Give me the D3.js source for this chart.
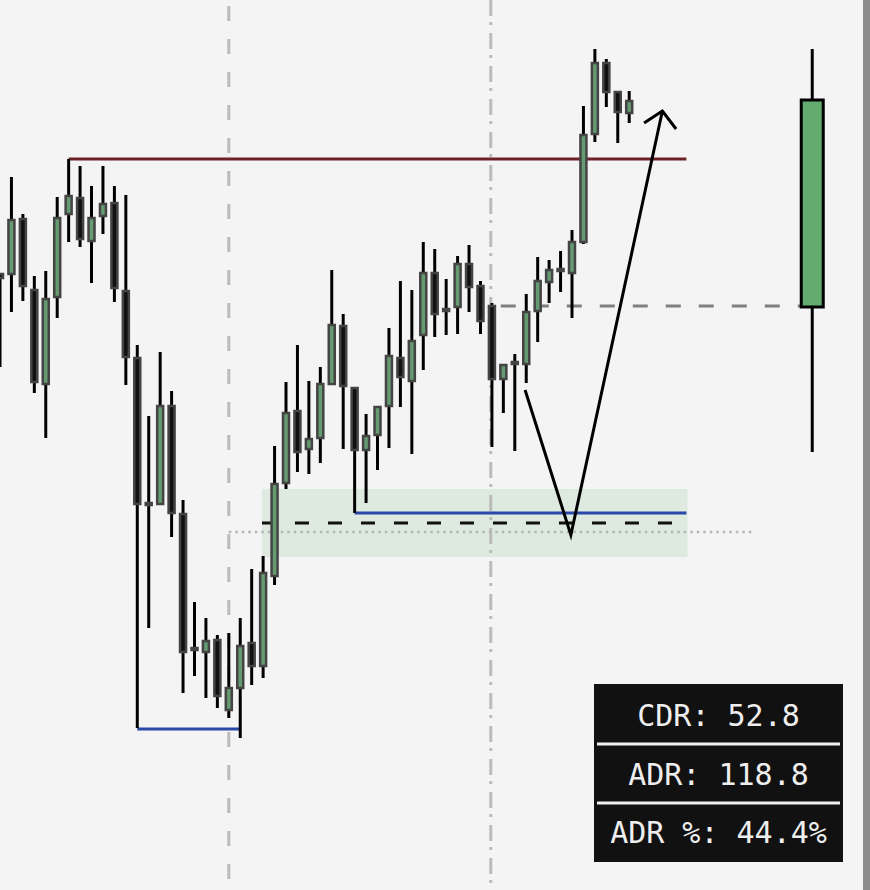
<!DOCTYPE html>
<html>
<head>
<meta charset="utf-8">
<script src="https://cdn.jsdelivr.net/npm/d3@7/dist/d3.min.js"></script>
<style>
  html, body { margin: 0; padding: 0; background: #f4f4f5; }
  svg { display: block; }
</style>
</head>
<body>
<div id="chart"></div>
<script>
// ---- DATA (price units) ----
const opens  = [62.6,62.6,68.1,61.0,51.6,60.3,68.6,70.2,65.9,68.4,69.7,60.9,54.2,39.7,39.6,49.4,38.6,25.2,24.8,26.0,19.0,21.2,25.7,23.4,32.4,41.7,48.9,45.1,46.2,51.6,57.4,51.2,45.0,46.5,49.4,54.2,51.9,56.5,62.7,59.1,59.3,63.6,61.4,59.4,52.1,53.8,53.6,58.9,61.8,62.9,62.7,65.8,76.6,83.7,80.8,78.7];
const highs  = [62.6,72.3,68.6,62.4,62.9,70.3,74.1,73.4,71.4,73.4,71.4,70.5,55.5,48.4,54.8,50.9,40.0,29.8,28.2,26.5,26.7,28.2,33.1,34.4,45.4,51.8,55.5,51.9,53.3,63.0,58.6,51.3,48.6,49.3,57.2,61.9,61.0,65.8,65.1,62.1,64.4,65.5,61.9,59.7,53.5,54.6,60.6,64.3,64.0,64.9,67.0,79.4,85.1,84.1,80.9,80.9];
const lows   = [53.3,58.8,59.9,50.7,46.2,58.2,65.8,65.3,61.7,66.6,59.8,51.5,17.2,27.2,39.6,36.3,20.7,22.4,20.2,19.2,18.2,16.2,21.5,22.2,31.5,41.1,42.8,42.6,43.7,51.6,45.1,38.7,39.7,43.0,45.2,49.3,44.6,53.0,56.3,56.5,56.6,58.8,56.6,45.3,48.7,44.9,51.7,55.8,59.7,60.8,58.2,65.6,75.8,79.3,75.7,77.7];
const closes = [62.2,68.0,61.4,51.8,60.1,68.2,70.4,66.1,68.2,69.6,61.2,54.3,39.6,39.5,49.4,38.7,24.8,25.0,25.9,20.4,21.2,25.4,23.4,32.7,41.6,48.7,44.8,46.1,51.6,57.5,51.4,45.0,46.4,49.3,54.4,52.3,55.9,62.7,58.6,58.9,63.6,61.3,57.9,52.1,53.5,53.6,58.8,61.9,63.0,63.1,65.8,76.5,83.7,80.8,78.8,79.9];

// Higher-timeframe (daily) candle: open, high, low, close
const dailyCandle = [59.3, 85.1, 44.8, 80.0];
const dailyIndex = 71.0;

// Levels [x0, x1, price]
const resistanceLevel = [6, 60, 74.1];
const lowLevel = [12, 21, 17.1];
const supportLevel = [31, 60, 38.7];
const entryLevel = [22.9, 59.0, 37.7];
const midLevel = [20, 66, 36.8];
const openLevel = [42.9, 70, 59.4];
const zoneBox = [22.9, 60.1, 41.1, 34.3];   // x0, x1, top, bottom
const sessionLines = [20.0, 42.9];
const projectionPath = [[45.9, 51.0], [49.9, 36.5], [57.9, 78.9]];
const arrowHead = [[56.3, 77.7], [57.9, 78.9], [59.1, 77.1]];

const statLabels = ["CDR: 52.8", "ADR: 118.8", "ADR %: 44.4%"];

// ---- CHART ----
const W = 870, H = 890;
const x = d3.scaleLinear().domain([0, 60]).range([0, 686.4]);
const y = d3.scaleLinear().domain([0, 90]).range([900, 0]);

const svg = d3.select("#chart").append("svg").attr("width", W).attr("height", H);
svg.append("rect").attr("width", W).attr("height", H).attr("fill", "#f4f4f5");

// zone box
svg.append("rect")
  .attr("x", x(zoneBox[0])).attr("y", y(zoneBox[2]))
  .attr("width", x(zoneBox[1]) - x(zoneBox[0]))
  .attr("height", y(zoneBox[3]) - y(zoneBox[2]))
  .attr("fill", "#dee9e0");

// session vertical lines
svg.append("line")
  .attr("x1", x(sessionLines[0])).attr("x2", x(sessionLines[0]))
  .attr("y1", 0).attr("y2", H)
  .attr("stroke", "#bbbbbb").attr("stroke-width", 3)
  .attr("stroke-dasharray", "15,18").attr("stroke-dashoffset", -6);
svg.append("line")
  .attr("x1", x(sessionLines[1])).attr("x2", x(sessionLines[1]))
  .attr("y1", 0).attr("y2", H)
  .attr("stroke", "#bbbbbb").attr("stroke-width", 3)
  .attr("stroke-dasharray", "16,6,3,8");

// mid dotted level
svg.append("line")
  .attr("x1", x(midLevel[0])).attr("x2", x(midLevel[1]))
  .attr("y1", y(midLevel[2])).attr("y2", y(midLevel[2]))
  .attr("stroke", "#b5b5b5").attr("stroke-width", 2.5)
  .attr("stroke-dasharray", "2.5,4");

// open dashed level
svg.append("line")
  .attr("x1", x(openLevel[0])).attr("x2", x(openLevel[1]))
  .attr("y1", y(openLevel[2])).attr("y2", y(openLevel[2]))
  .attr("stroke", "#7f7f7f").attr("stroke-width", 3)
  .attr("stroke-dasharray", "15,18").attr("stroke-dashoffset", -10);

// entry dashed level
svg.append("line")
  .attr("x1", x(entryLevel[0])).attr("x2", x(entryLevel[1]))
  .attr("y1", y(entryLevel[2])).attr("y2", y(entryLevel[2]))
  .attr("stroke", "#111").attr("stroke-width", 3)
  .attr("stroke-dasharray", "14,19");

// resistance level
svg.append("line")
  .attr("x1", x(resistanceLevel[0])).attr("x2", x(resistanceLevel[1]))
  .attr("y1", y(resistanceLevel[2])).attr("y2", y(resistanceLevel[2]))
  .attr("stroke", "#6b2226").attr("stroke-width", 3);

// blue levels
[lowLevel, supportLevel].forEach(l => {
  svg.append("line")
    .attr("x1", x(l[0])).attr("x2", x(l[1]))
    .attr("y1", y(l[2])).attr("y2", y(l[2]))
    .attr("stroke", "#2b47a8").attr("stroke-width", 3);
});

// candles
const data = opens.map((o, i) => ({i, o, h: highs[i], l: lows[i], c: closes[i]}));
const bw = 6;
const g = svg.append("g");
g.selectAll("line.wick").data(data).enter().append("line")
  .attr("x1", d => x(d.i)).attr("x2", d => x(d.i))
  .attr("y1", d => y(d.h)).attr("y2", d => y(d.l))
  .attr("stroke", "#000").attr("stroke-width", 3);
g.selectAll("rect.body").data(data).enter().append("rect")
  .attr("x", d => x(d.i) - bw / 2)
  .attr("y", d => y(Math.max(d.o, d.c)))
  .attr("width", bw)
  .attr("height", d => Math.max(0.5, Math.abs(y(d.o) - y(d.c))))
  .attr("fill", d => d.c >= d.o ? "#659b70" : "#111")
  .attr("stroke", "#444").attr("stroke-width", 2.5);

// daily candle
const [dO, dH, dL, dC] = dailyCandle;
svg.append("line")
  .attr("x1", x(dailyIndex)).attr("x2", x(dailyIndex))
  .attr("y1", y(dH)).attr("y2", y(dL))
  .attr("stroke", "#000").attr("stroke-width", 3);
svg.append("rect")
  .attr("x", x(dailyIndex) - 11).attr("y", y(dC))
  .attr("width", 22).attr("height", y(dO) - y(dC))
  .attr("fill", "#63ab6f").attr("stroke", "#000").attr("stroke-width", 3);

// projection arrow
const line = d3.line().x(d => x(d[0])).y(d => y(d[1]));
svg.append("path").attr("d", line(projectionPath))
  .attr("fill", "none").attr("stroke", "#000").attr("stroke-width", 3)
  .attr("stroke-linejoin", "miter");
svg.append("path").attr("d", line(arrowHead))
  .attr("fill", "none").attr("stroke", "#000").attr("stroke-width", 3);

// right edge bar
svg.append("rect").attr("x", 863).attr("y", 0).attr("width", 7).attr("height", H).attr("fill", "#8c8c8c");

// stats table
const tx = 594, ty = 684, tw = 249, th = 178;
const tg = svg.append("g");
tg.append("rect").attr("x", tx).attr("y", ty).attr("width", tw).attr("height", th).attr("fill", "#111");
[744, 803].forEach(yy => {
  tg.append("line").attr("x1", tx + 3).attr("x2", tx + tw - 3)
    .attr("y1", yy).attr("y2", yy).attr("stroke", "#f0f0f0").attr("stroke-width", 3);
});
const rowCenters = [715, 774, 832];
statLabels.forEach((t, k) => {
  tg.append("text")
    .attr("x", tx + tw / 2).attr("y", rowCenters[k])
    .attr("text-anchor", "middle").attr("dominant-baseline", "central")
    .attr("font-family", "DejaVu Sans Mono, monospace")
    .attr("font-size", 30).attr("fill", "#eeeeee")
    .text(t);
});
</script>
</body>
</html>
